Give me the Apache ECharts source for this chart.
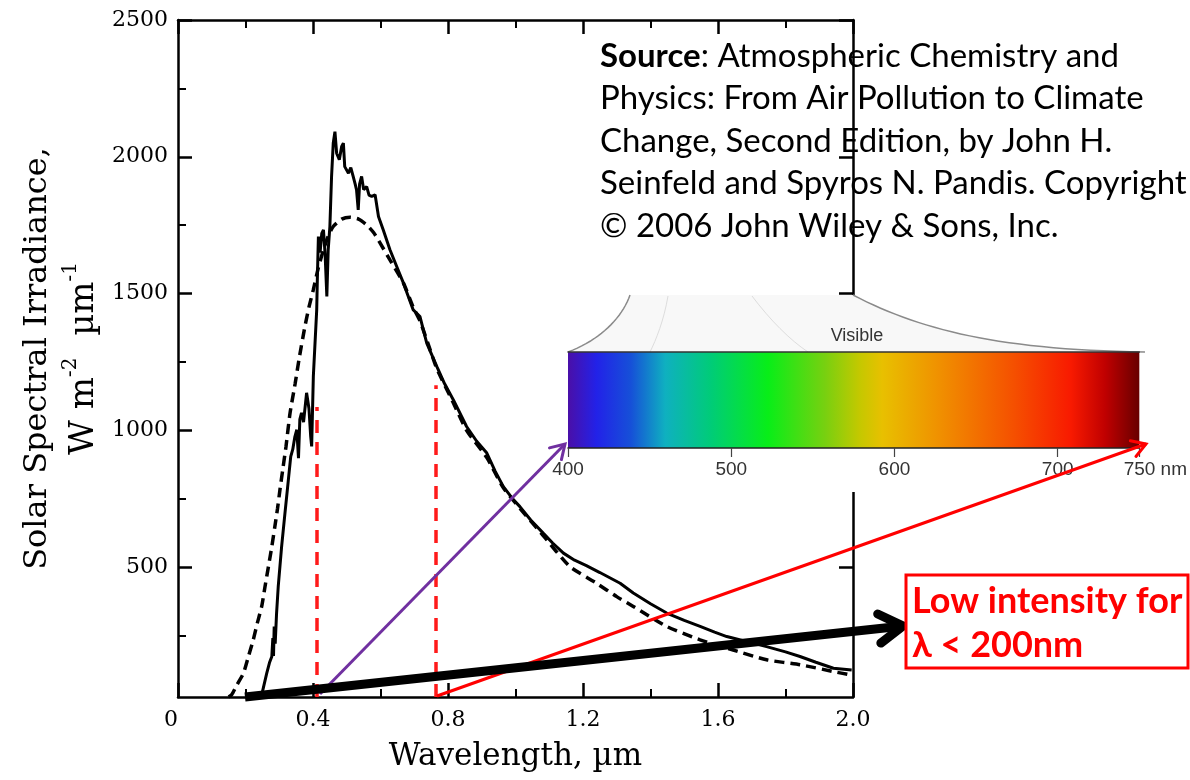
<!DOCTYPE html>
<html>
<head>
<meta charset="utf-8">
<script src="https://cdn.jsdelivr.net/npm/echarts@6/dist/echarts.min.js"></script>
<style>
  html, body { margin: 0; padding: 0; background: #fff; }
  #chart { width: 1190px; height: 780px; }
</style>
</head>
<body>
<div id="chart"></div>
<script>
// measured solar irradiance (solid line)
const solidWavelength = [0.240, 0.248, 0.263, 0.271, 0.278, 0.281, 0.283, 0.285, 0.288, 0.292, 0.297, 0.307, 0.317, 0.327, 0.334, 0.340, 0.346, 0.352, 0.357, 0.361, 0.366, 0.372, 0.381, 0.388, 0.393, 0.396, 0.401, 0.406, 0.411, 0.413, 0.416, 0.421, 0.426, 0.431, 0.436, 0.441, 0.445, 0.450, 0.455, 0.460, 0.465, 0.470, 0.478, 0.485, 0.490, 0.494, 0.505, 0.512, 0.519, 0.525, 0.529, 0.534, 0.538, 0.544, 0.550, 0.559, 0.566, 0.574, 0.584, 0.594, 0.608, 0.628, 0.648, 0.668, 0.697, 0.717, 0.737, 0.767, 0.790, 0.816, 0.855, 0.885, 0.915, 0.940, 0.964, 0.990, 1.013, 1.045, 1.082, 1.110, 1.142, 1.175, 1.210, 1.250, 1.310, 1.349, 1.400, 1.448, 1.500, 1.547, 1.590, 1.626, 1.690, 1.744, 1.800, 1.843, 1.890, 1.942, 1.996];
const solidIrradiance = [25, 33, 112, 150, 173, 240, 175, 283, 220, 330, 429, 575, 698, 819, 904, 930, 975, 1002, 898, 1040, 1064, 1030, 1137, 1080, 980, 941, 1197, 1190, 1440, 1560, 1708, 1650, 1720, 1733, 1640, 1489, 1660, 1745, 1928, 2050, 2092, 2013, 1989, 2038, 2050, 1964, 1940, 1960, 1928, 1900, 1879, 1806, 1900, 1928, 1880, 1891, 1860, 1855, 1861, 1782, 1733, 1660, 1599, 1538, 1440, 1416, 1319, 1233, 1170, 1111, 1014, 960, 917, 850, 794, 752, 721, 672, 624, 588, 551, 525, 505, 480, 441, 405, 366, 332, 305, 283, 262, 246, 226, 209, 190, 173, 152, 130, 124];

// blackbody curve (dashed line)
const dashedWavelength = [0.150, 0.159, 0.175, 0.194, 0.208, 0.223, 0.235, 0.248, 0.258, 0.268, 0.278, 0.287, 0.295, 0.302, 0.311, 0.320, 0.332, 0.347, 0.360, 0.376, 0.388, 0.401, 0.415, 0.431, 0.445, 0.460, 0.485, 0.510, 0.535, 0.559, 0.580, 0.599, 0.628, 0.668, 0.697, 0.717, 0.740, 0.767, 0.816, 0.855, 0.915, 0.964, 1.013, 1.082, 1.161, 1.240, 1.300, 1.349, 1.448, 1.547, 1.645, 1.744, 1.843, 1.942, 1.991];
const dashedIrradiance = [25, 33, 70, 112, 170, 234, 295, 356, 430, 502, 575, 648, 715, 782, 862, 941, 1063, 1170, 1270, 1379, 1450, 1514, 1590, 1660, 1710, 1745, 1772, 1779, 1772, 1751, 1722, 1684, 1623, 1538, 1450, 1400, 1320, 1225, 1100, 1000, 900, 790, 715, 615, 502, 441, 392, 356, 283, 234, 197, 161, 143, 118, 106];

// visible band edges (um) and the height of the red dashed markers
const visibleEdges = [0.41, 0.765];
const visibleEdgeTops = [1085, 1165];

const yMajorTicks = [500, 1000, 1500, 2000, 2500];
const yMinorTicks = [250, 750, 1250, 1750, 2250];
const spectrumRange = [400, 750];
const spectrumTicks = [400, 500, 600, 700, 750];

const solidData = solidWavelength.map((x, i) => [x, solidIrradiance[i]]);
const dashedData = dashedWavelength.map((x, i) => [x, dashedIrradiance[i]]);

const serif = 'DejaVu Serif';
const frame = { color: '#000', width: 2.5 };

function arrowHead(x1, y1, x2, y2, len, spread) {
  const a = Math.atan2(y2 - y1, x2 - x1);
  return [
    [x2 - len * Math.cos(a - spread), y2 - len * Math.sin(a - spread)],
    [x2, y2],
    [x2 - len * Math.cos(a + spread), y2 - len * Math.sin(a + spread)]
  ];
}

function arrow(x1, y1, x2, y2, color, width, len) {
  return [
    { type: 'line', z: 80, shape: { x1: x1, y1: y1, x2: x2, y2: y2 },
      style: { stroke: color, lineWidth: width } },
    { type: 'polyline', z: 80, shape: { points: arrowHead(x1, y1, x2, y2, len, 0.55) },
      style: { stroke: color, lineWidth: width, fill: null, lineJoin: 'miter', lineCap: 'round' } }
  ];
}

function bezierPoints(p0, c1, c2, p3, n) {
  const pts = [];
  for (let i = 0; i <= n; i++) {
    const t = i / n, u = 1 - t;
    pts.push([
      u * u * u * p0[0] + 3 * u * u * t * c1[0] + 3 * u * t * t * c2[0] + t * t * t * p3[0],
      u * u * u * p0[1] + 3 * u * u * t * c1[1] + 3 * u * t * t * c2[1] + t * t * t * p3[1]
    ]);
  }
  return pts;
}

const leftCurve = bezierPoints([568, 352], [600, 340], [622, 318], [630, 295], 20);
const rightCurve = bezierPoints([853, 295], [920, 330], [1000, 350], [1145, 352], 30);

const spectrum = new echarts.graphic.LinearGradient(0, 0, 1, 0, [
  { offset: 0.00, color: '#4a0fa8' },
  { offset: 0.05, color: '#2222e8' },
  { offset: 0.11, color: '#1650d8' },
  { offset: 0.17, color: '#0fb0c0' },
  { offset: 0.25, color: '#00cc78' },
  { offset: 0.35, color: '#08ee18' },
  { offset: 0.45, color: '#78d010' },
  { offset: 0.51, color: '#c4c800' },
  { offset: 0.55, color: '#e8c000' },
  { offset: 0.65, color: '#f09000' },
  { offset: 0.78, color: '#f55000' },
  { offset: 0.88, color: '#f81a00' },
  { offset: 0.94, color: '#c00000' },
  { offset: 1.00, color: '#680000' }
]);

const chart = echarts.init(document.getElementById('chart'));

const option = {
  animation: false,
  backgroundColor: '#fff',
  grid: [
    { left: 178, right: 337, top: 20, bottom: 83 },
    { left: 568, width: 577, top: 352, height: 96 }
  ],
  xAxis: [
    {
      type: 'value', gridIndex: 0, position: 'bottom', min: 0, max: 2.0, interval: 0.4,
      axisLine: { show: true, lineStyle: frame },
      axisTick: { show: true, inside: true, length: 14, lineStyle: frame },
      minorTick: { show: true, splitNumber: 2, length: 8, lineStyle: { color: '#000', width: 2 } },
      splitLine: { show: false },
      axisLabel: {
        color: '#000', fontFamily: serif, fontSize: 22, margin: 12, alignMinLabel: 'right',
        formatter: v => (v === 0 ? '0' : v.toFixed(1))
      },
      name: 'Wavelength, \u00b5m', nameLocation: 'middle', nameGap: 44,
      nameTextStyle: { color: '#000', fontFamily: serif, fontSize: 31 }
    },
    {
      type: 'value', gridIndex: 0, position: 'top', min: 0, max: 2.0, interval: 0.4,
      axisLine: { show: true, lineStyle: frame },
      axisTick: { show: true, inside: true, length: 14, lineStyle: frame },
      minorTick: { show: true, splitNumber: 2, length: 8, lineStyle: { color: '#000', width: 2 } },
      splitLine: { show: false },
      axisLabel: { show: false }
    },
    {
      type: 'value', gridIndex: 1, position: 'bottom', min: spectrumRange[0], max: spectrumRange[1], z: 60,
      axisLine: { show: true, lineStyle: { color: '#222', width: 1.5 } },
      axisTick: { show: true, length: 9, customValues: spectrumTicks, lineStyle: { color: '#444', width: 1.2 } },
      splitLine: { show: false },
      axisLabel: {
        customValues: spectrumTicks, color: '#333', fontFamily: 'Liberation Sans', fontSize: 19, margin: 12,
        formatter: v => (v === 750 ? '{pad|}750 nm' : String(v)),
        rich: { pad: { width: 32 } }
      }
    },
    {
      type: 'value', gridIndex: 1, position: 'top', min: spectrumRange[0], max: spectrumRange[1], z: 60,
      axisLine: { show: true, lineStyle: { color: '#333', width: 1.5 } },
      axisTick: { show: false }, axisLabel: { show: false }, splitLine: { show: false }
    }
  ],
  yAxis: [
    {
      type: 'value', gridIndex: 0, position: 'left', min: 25, max: 2500,
      axisLine: { show: true, lineStyle: frame },
      axisTick: { show: true, inside: true, length: 14, customValues: yMajorTicks, lineStyle: frame },
      splitLine: { show: false },
      axisLabel: { customValues: yMajorTicks, color: '#000', fontFamily: serif, fontSize: 22, margin: 10, formatter: v => String(v) },
      name: '{a|Solar Spectral Irradiance,}\n{b|W m}{s|-2}{b|  \u00b5m}{s|-1}',
      nameLocation: 'middle', nameRotate: 90, nameGap: 70,
      nameTextStyle: {
        rich: {
          a: { color: '#000', fontFamily: serif, fontSize: 32, lineHeight: 46 },
          b: { color: '#000', fontFamily: serif, fontSize: 34, lineHeight: 46 },
          s: { color: '#000', fontFamily: serif, fontSize: 20, lineHeight: 22, verticalAlign: 'top' }
        }
      }
    },
    {
      type: 'value', gridIndex: 0, position: 'left', min: 25, max: 2500,
      axisLine: { show: false },
      axisTick: { show: true, inside: true, length: 8, customValues: yMinorTicks, lineStyle: { color: '#000', width: 2 } },
      splitLine: { show: false }, axisLabel: { show: false }
    },
    {
      type: 'value', gridIndex: 0, position: 'right', min: 25, max: 2500,
      axisLine: { show: true, lineStyle: frame },
      axisTick: { show: true, inside: true, length: 14, customValues: yMajorTicks, lineStyle: frame },
      splitLine: { show: false }, axisLabel: { show: false }
    },
    { type: 'value', gridIndex: 1, min: 0, max: 1, show: false }
  ],
  series: [
    {
      name: 'Blackbody', type: 'line', xAxisIndex: 0, yAxisIndex: 0, data: dashedData,
      symbol: 'none', smooth: 0.2, z: 3,
      lineStyle: { color: '#000', width: 3.5, type: [10, 6] }
    },
    {
      name: 'Measured', type: 'line', xAxisIndex: 0, yAxisIndex: 0, data: solidData,
      symbol: 'none', z: 4,
      lineStyle: { color: '#000', width: 3 },
      markLine: {
        silent: true, symbol: 'none', label: { show: false },
        lineStyle: { color: '#ff1a1a', width: 3.5, type: [13, 9] },
        data: visibleEdges.map((x, i) => [{ coord: [x, 25] }, { coord: [x, visibleEdgeTops[i]] }])
      }
    },
    {
      name: 'Visible', type: 'custom', xAxisIndex: 2, yAxisIndex: 3, z: 60,
      data: [spectrumRange],
      renderItem: (params, api) => {
        const p0 = api.coord([api.value(0), 1]);
        const p1 = api.coord([api.value(1), 0]);
        return {
          type: 'rect',
          shape: { x: p0[0], y: p0[1], width: p1[0] - p0[0], height: p1[1] - p0[1] },
          style: { fill: spectrum }
        };
      }
    }
  ],
  graphic: {
    elements: [
      // white backing of the spectrum inset
      { type: 'rect', z: 50, shape: { x: 548, y: 296, width: 642, height: 196 }, style: { fill: '#fff' } },
      { type: 'polygon', z: 52, shape: { points: leftCurve.concat(rightCurve) }, style: { fill: '#f8f8f8' } },
      { type: 'bezierCurve', z: 53, shape: { x1: 668, y1: 296, cpx1: 664, cpy1: 320, cpx2: 656, cpy2: 340, x2: 650, y2: 352 },
        style: { stroke: '#dddddd', lineWidth: 1, fill: null } },
      { type: 'bezierCurve', z: 53, shape: { x1: 752, y1: 296, cpx1: 770, cpy1: 320, cpx2: 790, cpy2: 340, x2: 808, y2: 352 },
        style: { stroke: '#dddddd', lineWidth: 1, fill: null } },
      { type: 'polyline', z: 54, shape: { points: leftCurve }, style: { stroke: '#8a8a8a', lineWidth: 1.5, fill: null } },
      { type: 'polyline', z: 54, shape: { points: rightCurve }, style: { stroke: '#8a8a8a', lineWidth: 1.5, fill: null } },
      { type: 'text', z: 55, style: { x: 857, y: 336, text: 'Visible', fill: '#333', fontFamily: 'Liberation Sans', fontSize: 18, align: 'center', verticalAlign: 'middle' } },

      ...arrow(320, 694, 565, 444, '#7030a0', 3, 16),
      ...arrow(437, 696, 1146, 444, '#ff0000', 3, 16),
      ...arrow(245, 697, 903, 626, '#000', 9, 28),

      // red callout
      { type: 'rect', z: 85, shape: { x: 906, y: 575, width: 282, height: 93 }, style: { fill: '#fff', stroke: '#ff0000', lineWidth: 3 } },
      { type: 'text', z: 86, style: { x: 912, y: 601, text: 'Low intensity for', fill: '#ff0000', fontFamily: 'Lato', fontWeight: 'bold', fontSize: 36, verticalAlign: 'middle' } },
      { type: 'text', z: 86, style: { x: 912, y: 645, text: '\u03bb < 200nm', fill: '#ff0000', fontFamily: 'Lato', fontWeight: 'bold', fontSize: 36, verticalAlign: 'middle' } },

      // source note
      { type: 'text', z: 40, style: {
          x: 600, y: 35,
          text: '{b|Source}{n|: Atmospheric Chemistry and}\n{n|Physics: From Air Pollution to Climate}\n{n|Change, Second Edition, by John H.}\n{n|Seinfeld and Spyros N. Pandis. Copyright}\n{n|\u00a9 2006 John Wiley & Sons, Inc.}',
          rich: {
            b: { fill: '#000', fontFamily: 'Lato', fontWeight: 'bold', fontSize: 33, lineHeight: 42.5 },
            n: { fill: '#000', fontFamily: 'Lato', fontSize: 33, lineHeight: 42.5 }
          }
        } }
    ]
  }
};

chart.setOption(option);
</script>
</body>
</html>
